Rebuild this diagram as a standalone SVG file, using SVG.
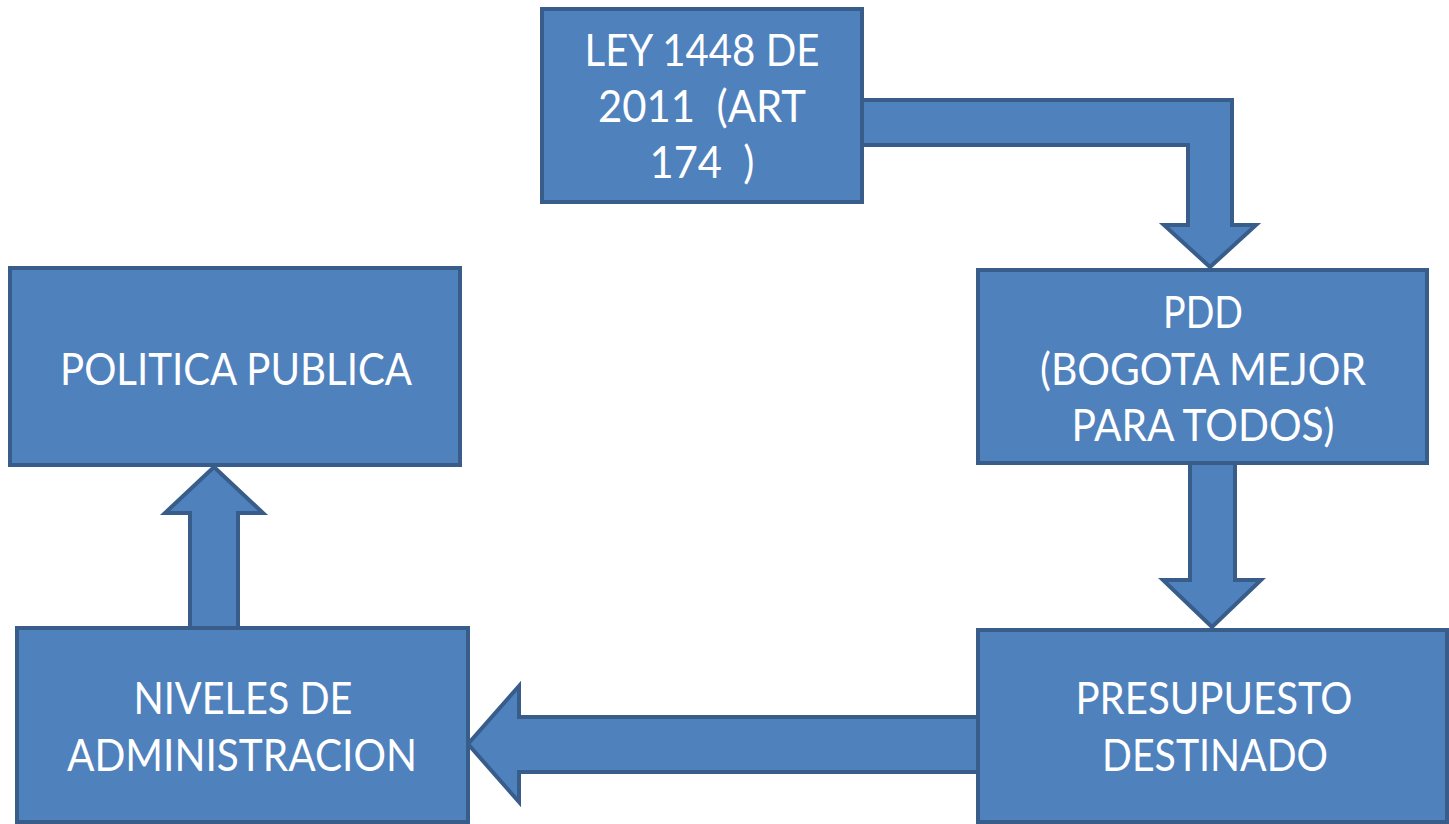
<svg xmlns="http://www.w3.org/2000/svg" width="1449" height="824" viewBox="0 0 1449 824">
<style>
.box{fill:#4F81BD;stroke:#385D8A;stroke-width:4;stroke-linejoin:miter}
.arr{fill:#4F81BD;stroke:#385D8A;stroke-width:4;stroke-linejoin:miter}
.t{font-family:Lato,"Liberation Sans",sans-serif;font-size:44px;fill:#FFFFFF;text-anchor:middle;white-space:pre}
</style>
<rect width="1449" height="824" fill="#FFFFFF"/>
<g id="connectors">
<polygon class="arr" points="862,100 1232,100 1232,225 1256,225 1210,267 1164,225 1188,225 1188,145 862,145"/>
<polygon class="arr" points="1190,463 1235,463 1235,580 1261,580 1212,627 1163,580 1190,580"/>
<polygon class="arr" points="190,628 190,513 165,513 214,467 263,513 238,513 238,628"/>
<polygon class="arr" points="978,717 519,717 519,686 468,744 519,802 519,772 978,772"/>
</g>
<g id="ley">
<rect class="box" x="542" y="9" width="320" height="193"/>
<text class="t" xml:space="preserve"><tspan x="702" y="66" textLength="235" lengthAdjust="spacingAndGlyphs">LEY 1448 DE</tspan><tspan x="702" y="122" textLength="208" lengthAdjust="spacingAndGlyphs">2011  (ART</tspan><tspan x="702" y="178" textLength="105" lengthAdjust="spacingAndGlyphs">174  )</tspan></text>
</g>
<g id="pdd">
<rect class="box" x="978" y="270" width="449" height="193"/>
<text class="t"><tspan x="1203" y="328" textLength="80" lengthAdjust="spacingAndGlyphs">PDD</tspan><tspan x="1203" y="385" textLength="326" lengthAdjust="spacingAndGlyphs">(BOGOTA MEJOR</tspan><tspan x="1203" y="441" textLength="263" lengthAdjust="spacingAndGlyphs">PARA TODOS)</tspan></text>
</g>
<g id="politica">
<rect class="box" x="10" y="268" width="450" height="197"/>
<text class="t"><tspan x="236" y="385" textLength="352" lengthAdjust="spacingAndGlyphs">POLITICA PUBLICA</tspan></text>
</g>
<g id="niveles">
<rect class="box" x="17" y="628" width="451" height="194"/>
<text class="t"><tspan x="243" y="714" textLength="219" lengthAdjust="spacingAndGlyphs">NIVELES DE</tspan><tspan x="242" y="771" textLength="350" lengthAdjust="spacingAndGlyphs">ADMINISTRACION</tspan></text>
</g>
<g id="presupuesto">
<rect class="box" x="978" y="630" width="469" height="192"/>
<text class="t"><tspan x="1214" y="714" textLength="277" lengthAdjust="spacingAndGlyphs">PRESUPUESTO</tspan><tspan x="1215" y="771" textLength="226" lengthAdjust="spacingAndGlyphs">DESTINADO</tspan></text>
</g>
</svg>
